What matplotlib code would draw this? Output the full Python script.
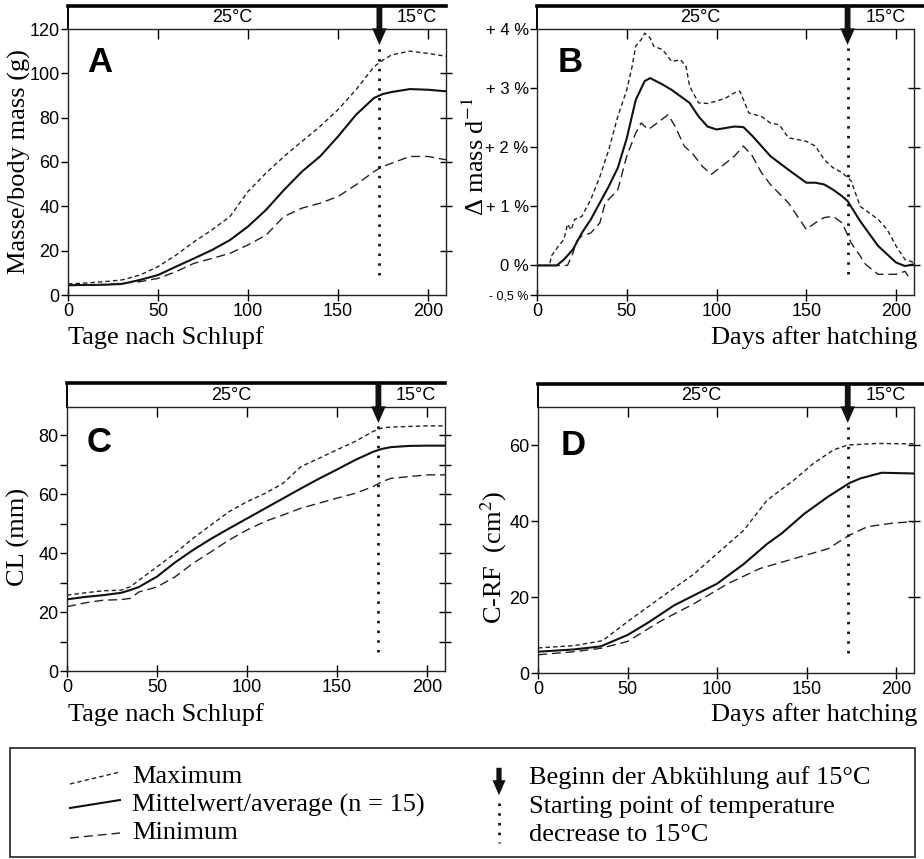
import numpy as np
import matplotlib
matplotlib.use('Agg')
import matplotlib.pyplot as plt
from matplotlib.patches import Rectangle, FancyArrowPatch
from matplotlib.lines import Line2D

plt.rcParams['mathtext.fontset'] = 'stix'
SERIF = 'Liberation Serif'
SANS = 'Liberation Sans'

W, H = 924, 859

# ---- data ----
A_days = [0, 10, 20, 30, 40, 50, 60, 70, 80, 90, 100, 110, 120, 130, 140, 150, 160, 170, 175, 180, 190, 200, 210]
A_mean = [4.5, 4.5, 4.6, 5.0, 6.8, 9.0, 12.8, 16.5, 20.3, 24.8, 30.9, 38.4, 47.4, 55.7, 62.5, 71.5, 81.3, 88.9, 90.7, 91.6, 92.9, 92.6, 91.9]
A_max = [5.0, 5.4, 6.0, 6.8, 9.0, 12.8, 18.0, 24.0, 29.4, 35.4, 46.7, 55.0, 62.5, 69.3, 76.0, 83.6, 92.6, 103.0, 106.0, 108.4, 110.0, 109.0, 107.7]
A_min = [4.2, 4.4, 4.8, 5.3, 6.0, 7.5, 10.5, 14.3, 16.5, 18.8, 22.6, 27.0, 35.4, 39.2, 41.4, 44.4, 49.7, 55.7, 58.0, 59.5, 62.5, 62.5, 61.0]

B_mean_days = [0, 11, 15, 20, 23, 25, 30, 35, 40, 45, 50, 55, 60, 63, 70, 75, 80, 85, 90, 95,
               100, 110, 115, 120, 130, 140, 150, 155, 160, 165, 170, 173, 180, 190, 200, 205, 210]
B_mean = [0, 0, 0.1, 0.27, 0.44, 0.55, 0.78, 1.06, 1.34, 1.65, 2.15, 2.8, 3.12, 3.17, 3.06, 2.97, 2.86, 2.75, 2.52, 2.35,
          2.3, 2.35, 2.34, 2.19, 1.85, 1.62, 1.4, 1.4, 1.37, 1.28, 1.17, 1.09, 0.75, 0.33, 0.05, -0.01, 0.02]
B_max_days = [0, 7, 8, 12, 15, 17, 19, 21, 25, 30, 35, 40, 45, 50, 53, 55, 58, 60, 63, 65,
              70, 75, 80, 83, 85, 90, 95, 100, 105, 110, 113, 118, 125, 130, 135, 140, 145, 150, 155, 160,
              165, 170, 175, 180, 190, 195, 200, 205, 210]
B_max = [0, 0, 0.16, 0.33, 0.44, 0.7, 0.6, 0.78, 0.83, 1.12, 1.5, 1.96, 2.52, 2.97, 3.37, 3.71, 3.82, 3.93, 3.85, 3.71,
         3.65, 3.45, 3.48, 3.37, 3.03, 2.75, 2.74, 2.78, 2.83, 2.92, 2.95, 2.58, 2.52, 2.41, 2.38, 2.16, 2.13, 2.1, 2.02, 1.79,
         1.65, 1.57, 1.43, 1.0, 0.78, 0.61, 0.33, 0.1, 0.05]
B_min_days = [0, 17, 20, 22, 25, 30, 35, 38, 40, 45, 50, 55, 58, 62, 67, 73, 77, 82, 87, 92,
              97, 103, 110, 115, 120, 125, 130, 140, 150, 155, 160, 165, 170, 175, 180, 183, 190, 200, 205, 208]
B_min = [0, 0, 0.21, 0.41, 0.5, 0.55, 0.72, 1.06, 1.12, 1.28, 1.85, 2.24, 2.41, 2.3, 2.41, 2.55, 2.35, 2.02, 1.88, 1.68,
         1.54, 1.68, 1.85, 2.02, 1.85, 1.57, 1.37, 1.06, 0.61, 0.72, 0.81, 0.83, 0.72, 0.38, 0.16, 0.02, -0.15, -0.15, -0.1, -0.24]

C_days = [0, 10, 20, 30, 35, 40, 50, 60, 70, 80, 90, 100, 110, 120, 130, 140, 150, 160, 170, 175, 180, 190, 200, 210]
C_mean = [24.3, 25.1, 25.7, 26.5, 27.4, 28.5, 32.0, 36.8, 41.0, 44.8, 48.3, 51.7, 55.1, 58.5, 61.9, 65.2, 68.3, 71.5, 74.3, 75.3, 75.9, 76.3, 76.4, 76.4]
C_max = [25.7, 26.5, 27.2, 27.4, 28.5, 30.8, 35.3, 39.9, 45.0, 49.5, 54.0, 57.4, 60.2, 63.6, 69.3, 72.1, 75.0, 77.8, 81.2, 82.4, 82.7, 82.9, 83.1, 83.1]
C_min = [21.8, 23.1, 24.0, 24.2, 24.6, 26.8, 28.5, 31.9, 36.5, 40.4, 44.4, 47.8, 50.7, 52.9, 55.2, 56.9, 58.6, 60.2, 62.5, 64.2, 65.3, 65.9, 66.5, 66.5]

D_mean_days = [0, 20, 35, 50, 62, 76, 100, 115, 128, 136, 149, 162, 174, 180, 192, 210]
D_mean = [5.6, 6.2, 7.0, 10.0, 13.4, 17.8, 23.5, 28.7, 34.0, 36.7, 42.0, 46.4, 50.0, 51.2, 52.7, 52.5]
D_max_days = [0, 20, 36, 50, 69, 87, 100, 115, 128, 143, 154, 165, 173, 189, 210]
D_max = [6.6, 7.2, 8.5, 13.5, 20.0, 26.0, 31.4, 37.6, 45.5, 50.8, 55.2, 58.7, 60.0, 60.4, 60.3]
D_min_days = [0, 20, 35, 50, 69, 87, 106, 124, 143, 162, 174, 184, 199, 210]
D_min = [4.8, 5.6, 6.5, 8.3, 13.8, 18.2, 23.5, 27.5, 30.1, 32.7, 36.3, 38.5, 39.5, 39.8]

COOL_DAY = 173
MAX_STYLE = dict(color='#222222', lw=1.0, ls=(0, (3.2, 2.2)))
MEAN_STYLE = dict(color='#111111', lw=1.5, ls='-')
MIN_STYLE = dict(color='#222222', lw=1.0, ls=(0, (6.5, 3.5)))
DOT_STYLE = dict(color='#111111', lw=2.0, ls=(0, (0.9, 2.6)))
ARROW = 'simple,head_length=1.2,head_width=1.05,tail_width=0.42'


def fx(x):
    return x / W


def fy(y):
    return 1 - y / H


fig = plt.figure(figsize=(W / 100, H / 100), dpi=100)


def panel(box, band_top, ylim, yticks, yticklabels, letter, letter_xy, mean, mx, mn,
          dot_range, right_ticks, minor_left=None, ytick_size=13, band_ext=None):
    l, t, r, b = box
    ax = fig.add_axes([fx(l), fy(b), fx(r - l), (b - t) / H])
    ax.set_xlim(0, 210)
    ax.set_ylim(*ylim)

    ax.plot(*mx, **MAX_STYLE)
    ax.plot(*mean, **MEAN_STYLE)
    ax.plot(*mn, **MIN_STYLE)
    ax.plot([COOL_DAY, COOL_DAY], dot_range, **DOT_STYLE)

    for s in ax.spines.values():
        s.set_linewidth(1.0)
        s.set_color('#222222')

    ax.set_xticks([0, 50, 100, 150, 200])
    ax.set_xticklabels(['0', '50', '100', '150', '200'], fontfamily=SANS, fontsize=13)
    ax.tick_params(axis='x', direction='inout', length=8, width=1, pad=2)
    ax.set_yticks(yticks)
    ax.set_yticklabels(yticklabels, fontfamily=SANS, fontsize=ytick_size)
    ax.tick_params(axis='y', direction='out', length=5, width=1, pad=1)
    if minor_left is not None:
        ax.set_yticks(minor_left, minor=True)
        ax.tick_params(axis='y', which='minor', direction='out', length=5, width=1)

    # ticks on top and right without labels
    top = ax.secondary_xaxis('top')
    top.set_xticks([50, 100, 150, 200])
    top.set_xticklabels([])
    top.tick_params(direction='in', length=7, width=1)
    top.spines['top'].set_visible(False)
    right = ax.secondary_yaxis('right')
    right.set_yticks(right_ticks)
    right.set_yticklabels([])
    right.tick_params(direction='inout', length=9, width=1)
    right.spines['right'].set_visible(False)

    # temperature band above the plot
    hb = (b - band_top) / (b - t)
    ext = (band_ext - l) / (r - l) if band_ext else 1.0
    ax.add_line(Line2D([0, ext], [hb, hb], transform=ax.transAxes, color='k', lw=2.6, clip_on=False))
    ax.add_line(Line2D([0, 0], [1, hb], transform=ax.transAxes, color='k', lw=1.4, clip_on=False))
    mid = (1 + hb) / 2
    ax.text(91, mid, '25°C', transform=ax.get_xaxis_transform(), ha='center', va='center',
            fontfamily=SANS, fontsize=13)
    ax.text(194, mid, '15°C', transform=ax.get_xaxis_transform(), ha='center', va='center',
            fontfamily=SANS, fontsize=13)
    tip = 1 - 16 / (b - t)
    ax.annotate('', xy=(COOL_DAY, tip), xycoords=ax.get_xaxis_transform(),
                xytext=(COOL_DAY, hb), textcoords=ax.get_xaxis_transform(),
                arrowprops=dict(arrowstyle=ARROW, fc='#111111', ec='none', lw=0,
                                shrinkA=0, shrinkB=0, mutation_scale=10),
                annotation_clip=False)

    fig.text(fx(letter_xy[0]), fy(letter_xy[1]), letter, fontfamily=SANS, fontweight='bold',
             fontsize=25, ha='left', va='center')
    return ax


axA = panel((68, 29, 446, 295), 6, (0, 120), [0, 20, 40, 60, 80, 100, 120],
            ['0', '20', '40', '60', '80', '100', '120'], 'A', (87, 63),
            (A_days, A_mean), (A_days, A_max), (A_days, A_min), (9, 113), [20, 40, 60, 80, 100])

axB = panel((537, 29, 914, 295), 6, (-0.5, 4), [-0.5, 0, 1, 2, 3, 4],
            ['- 0,5 %', '0 %', '+ 1 %', '+ 2 %', '+ 3 %', '+ 4 %'], 'B', (558, 63),
            (B_mean_days, B_mean), (B_max_days, B_max), (B_min_days, B_min), (-0.15, 3.8), [0, 1, 2, 3],
            ytick_size=12, band_ext=924)
for lab in axB.get_yticklabels():
    if lab.get_text().startswith('-'):
        lab.set_fontsize(9)

axC = panel((67, 407, 445, 671), 383, (0, 89.5), [0, 20, 40, 60, 80],
            ['0', '20', '40', '60', '80'], 'C', (87, 442),
            (C_days, C_mean), (C_days, C_max), (C_days, C_min), (6.4, 85), [10, 20, 30, 40, 50, 60, 70, 80],
            minor_left=[10, 30, 50, 70])

axD = panel((538, 407, 914, 673), 384, (0, 70), [0, 20, 40, 60],
            ['0', '20', '40', '60'], 'D', (561, 446),
            (D_mean_days, D_mean), (D_max_days, D_max), (D_min_days, D_min), (5.3, 66.5), [20, 40, 60],
            band_ext=924)

# axis labels
lab_kw = dict(fontfamily=SERIF, fontsize=19)
fig.text(fx(68), fy(338), 'Tage nach Schlupf', ha='left', va='center', **lab_kw)
fig.text(fx(917), fy(338), 'Days after hatching', ha='right', va='center', **lab_kw)
fig.text(fx(68), fy(715), 'Tage nach Schlupf', ha='left', va='center', **lab_kw)
fig.text(fx(917), fy(715), 'Days after hatching', ha='right', va='center', **lab_kw)
fig.text(fx(19), fy(162), 'Masse/body mass (g)', rotation=90, ha='center', va='center', **lab_kw)
fig.text(fx(476), fy(157), r'Δ mass d$^{-1}$', rotation=90, ha='center', va='center', **lab_kw)
fig.text(fx(18), fy(537), 'CL (mm)', rotation=90, ha='center', va='center', **lab_kw)
fig.text(fx(494), fy(557), r'C-RF  (cm$^{2}$)', rotation=90, ha='center', va='center', **lab_kw)

# legend box
fig.patches.append(Rectangle((fx(10), fy(857)), fx(905), (857 - 748) / H, transform=fig.transFigure,
                             fill=False, edgecolor='#333333', lw=1.3))
leg_items = [('Maximum', MAX_STYLE, 777, (784, 772)),
             ('Mittelwert/average (n = 15)', MEAN_STYLE, 805, (808, 800)),
             ('Minimum', MIN_STYLE, 833, (838, 833))]
for txt, style, ty, (y0, y1) in leg_items:
    fig.add_artist(Line2D([fx(70), fx(120)], [fy(y0), fy(y1)], transform=fig.transFigure, **style))
    fig.text(fx(132), fy(ty), txt, ha='left', va='center', **lab_kw)

fig.add_artist(Line2D([fx(499), fx(499)], [fy(803), fy(843)], transform=fig.transFigure, **DOT_STYLE))
fig.patches.append(FancyArrowPatch((fx(499), fy(765)), (fx(499), fy(798)), transform=fig.transFigure,
                                   arrowstyle=ARROW, mutation_scale=9, fc='#111111', ec='none', lw=0))
for txt, ty in [('Beginn der Abkühlung auf 15°C', 778), ('Starting point of temperature', 807),
                ('decrease to 15°C', 835)]:
    fig.text(fx(529), fy(ty), txt, ha='left', va='center', **lab_kw)

fig.savefig('out.png', dpi=100, facecolor='white')
